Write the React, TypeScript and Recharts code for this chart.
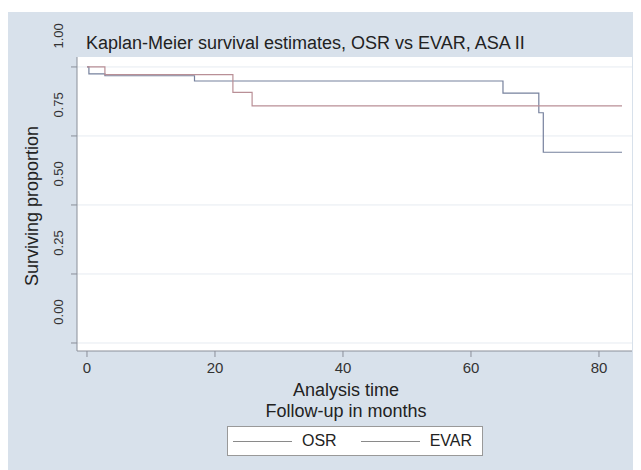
import { LineChart, Line, XAxis, YAxis, CartesianGrid } from 'recharts';

// follow-up in months and surviving proportion
const osrTime = [0, 0.3, 2.8, 16.8, 65.0, 70.6, 71.3, 83.6];
const osrSurv = [1.0, 0.975, 0.968, 0.949, 0.905, 0.834, 0.691, 0.691];
const evarTime = [0, 2.8, 22.8, 25.8, 83.6];
const evarSurv = [1.0, 0.972, 0.908, 0.859, 0.859];

const xTicks = [0, 20, 40, 60, 80];
const yTicks = [0, 0.25, 0.5, 0.75, 1];

const series = [
  { name: 'OSR', color: '#76819d', data: osrTime.map((t, i) => ({ t, s: osrSurv[i] })) },
  { name: 'EVAR', color: '#b98f96', data: evarTime.map((t, i) => ({ t, s: evarSurv[i] })) },
];

const font = '"Liberation Sans", Arial, sans-serif';

const YTick = ({ x, y, payload }: any) => (
  <text
    x={x - 6}
    y={y - 31}
    transform={`rotate(-90 ${x - 6} ${y - 31})`}
    textAnchor='middle'
    fill='#333'
    fontSize={13}
    fontFamily={font}
  >
    {payload.value.toFixed(2)}
  </text>
);

const XTick = ({ x, y, payload }: any) => (
  <text x={x} y={y + 14} textAnchor='middle' fill='#333' fontSize={15} fontFamily={font}>
    {payload.value}
  </text>
);

export default function App() {
  return (
    <div style={{ paddingTop: 4 }}>
      <div style={{ position: 'relative', width: 633, height: 458, background: '#d8e1eb', fontFamily: font }}>
        <LineChart width={633} height={458} margin={{ top: 45, right: 9, left: 0, bottom: 0 }}>
          <CartesianGrid vertical={false} stroke='#e6ebf1' fill='#ffffff' horizontalValues={yTicks} />
          <XAxis
            type='number'
            dataKey='t'
            domain={[-1.56, 85.16]}
            allowDataOverflow
            ticks={xTicks}
            height={119}
            stroke='#8a8f99'
            tickSize={6}
            tick={<XTick />}
          />
          <YAxis
            type='number'
            dataKey='s'
            domain={[-0.029, 1.036]}
            allowDataOverflow
            ticks={yTicks}
            width={69}
            stroke='#8a8f99'
            tickSize={6}
            tick={<YTick />}
          />
          {series.map((sr) => (
            <Line
              key={sr.name}
              data={sr.data}
              dataKey='s'
              name={sr.name}
              type='stepAfter'
              stroke={sr.color}
              strokeWidth={1.2}
              dot={false}
              isAnimationActive={false}
            />
          ))}
        </LineChart>
        <div style={{ position: 'absolute', left: 78, top: 20, fontSize: 18, lineHeight: '22px', color: '#222', whiteSpace: 'nowrap' }}>
          Kaplan-Meier survival estimates, OSR vs EVAR, ASA II
        </div>
        <div style={{ position: 'absolute', left: 24, top: 194, width: 0, height: 0 }}>
          <div
            style={{
              position: 'absolute',
              transform: 'translate(-50%, -50%) rotate(-90deg)',
              fontSize: 18,
              color: '#222',
              whiteSpace: 'nowrap',
            }}
          >
            Surviving proportion
          </div>
        </div>
        <div
          style={{
            position: 'absolute',
            left: 0,
            width: 676,
            top: 368,
            textAlign: 'center',
            fontSize: 18,
            color: '#222',
            lineHeight: '21px',
          }}
        >
          Analysis time
          <br />
          Follow-up in months
        </div>
        <div
          style={{
            position: 'absolute',
            left: 219,
            top: 414,
            width: 254,
            height: 28,
            background: '#fff',
            border: '1px solid #999',
            display: 'flex',
            alignItems: 'center',
            fontSize: 16,
            color: '#222',
          }}
        >
          {series.map((sr, i) => (
            <div key={sr.name} style={{ display: 'flex', alignItems: 'center', marginLeft: i === 0 ? 5 : 24 }}>
              <div style={{ width: 59, height: 1, background: '#8a8a8a', marginRight: 10 }} />
              <span>{sr.name}</span>
            </div>
          ))}
        </div>
      </div>
    </div>
  );
}
